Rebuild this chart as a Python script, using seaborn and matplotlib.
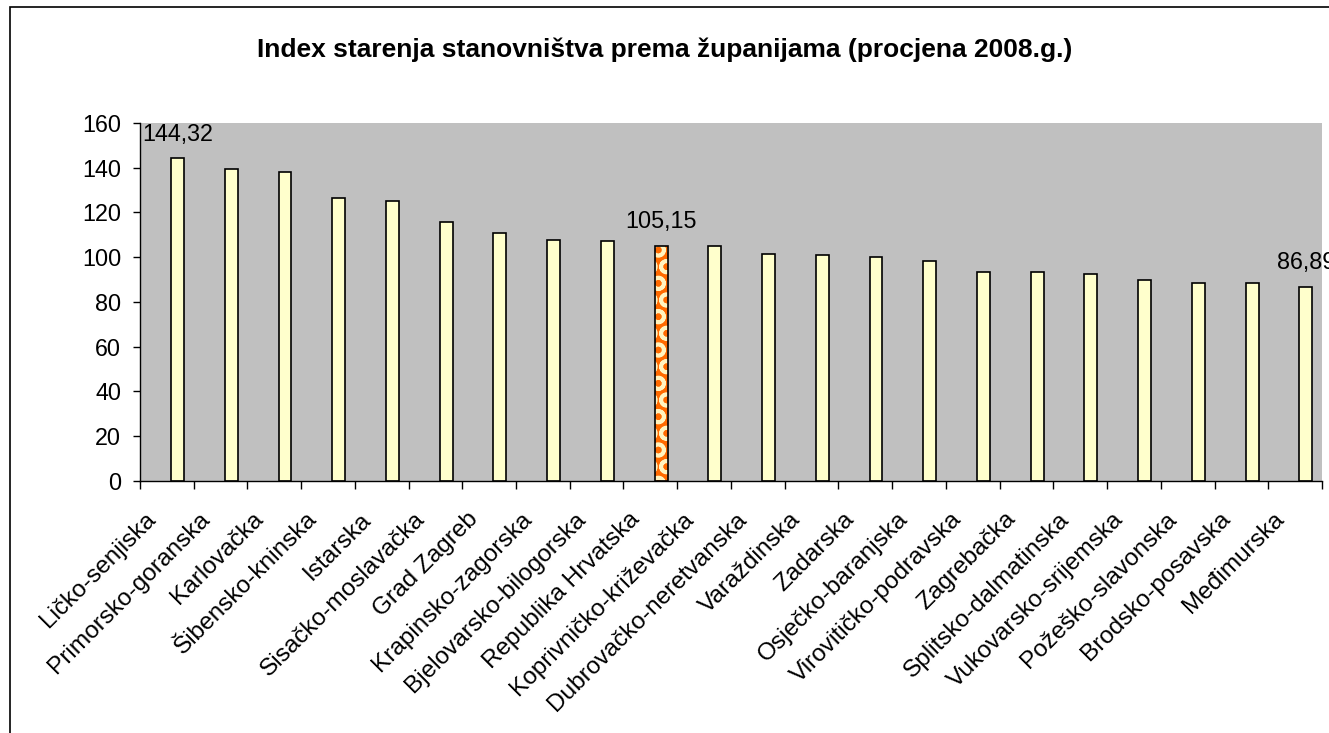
import matplotlib.pyplot as plt
import matplotlib.transforms as mtransforms
import seaborn as sns
import pandas as pd
import numpy as np
from matplotlib.patches import Rectangle

# Data
zupanije = [
    'Ličko-senjiska', 'Primorsko-goranska', 'Karlovačka', 'Šibensko-kninska',
    'Istarska', 'Sisačko-moslavačka', 'Grad Zagreb', 'Krapinsko-zagorska',
    'Bjelovarsko-bilogorska', 'Republika Hrvatska', 'Koprivničko-križevačka',
    'Dubrovačko-neretvanska', 'Varaždinska', 'Zadarska', 'Osječko-baranjska',
    'Virovitičko-podravska', 'Zagrebačka', 'Splitsko-dalmatinska',
    'Vukovarsko-srijemska', 'Požeško-slavonska', 'Brodsko-posavska', 'Međimurska'
]
index_starenja = [
    144.32, 139.4, 138.0, 126.6, 125.2, 115.7, 110.8, 107.9, 107.2, 105.15, 104.9,
    101.5, 100.8, 100.2, 98.5, 93.6, 93.5, 92.3, 90.0, 88.7, 88.6, 86.89
]
labelled = ['Ličko-senjiska', 'Republika Hrvatska', 'Međimurska']
highlight = 'Republika Hrvatska'

df = pd.DataFrame({'zupanija': zupanije, 'index': index_starenja})

sns.set_style('white')
plt.rcParams['font.family'] = ['Liberation Sans', 'DejaVu Sans']
plt.rcParams['text.color'] = 'black'
plt.rcParams['xtick.color'] = 'black'
plt.rcParams['ytick.color'] = 'black'
plt.rcParams['hatch.linewidth'] = 2.6

fs = 16.8

fig = plt.figure(figsize=(13.29, 7.33), dpi=100)
ax = fig.add_axes([0.1053, 0.3438, 0.8894, 0.4884])
ax.set_facecolor('#C0C0C0')

sns.barplot(data=df, x='zupanija', y='index', color='#FFFFCC',
            edgecolor='black', linewidth=1.2, width=0.24, saturation=1, ax=ax)

# bars sit right of the category centre (empty second series in the original)
for p in ax.patches:
    p.set_x(p.get_x() + 0.2)

# highlighted bar: orange pattern, black outline
for p, name in zip(ax.patches, zupanije):
    if name == highlight:
        p.set_facecolor('#FF6A00')
        p.set_hatch('O')
        p.set_edgecolor('#FFF4C0')
        p.set_linewidth(0)
        ax.add_patch(Rectangle(p.get_xy(), p.get_width(), p.get_height(),
                               fill=False, edgecolor='black', linewidth=1.2, zorder=p.get_zorder() + 0.1))

# data labels
lbls = [f'{v:.2f}'.replace('.', ',') if n in labelled else '' for n, v in zip(zupanije, index_starenja)]
texts = ax.bar_label(ax.containers[0], labels=lbls, padding=9, fontsize=fs)
for t in texts:
    t.set_clip_on(True)

ax.set_ylim(0, 160)
ax.set_xlim(-0.5, len(zupanije) - 0.5)
ax.set_yticks(np.arange(0, 161, 20))
ax.tick_params(axis='y', labelsize=fs, length=5, width=1, direction='out', left=True, pad=8.5)
ax.set_xticks(np.arange(len(zupanije) + 1) - 0.5, minor=True)
ax.tick_params(axis='x', which='minor', length=5.5, width=1, direction='out', bottom=True)
ax.tick_params(axis='x', which='major', length=0, pad=16)
ax.set_xticklabels(zupanije, rotation=45, ha='right', rotation_mode='anchor', fontsize=17.6)
shift = mtransforms.ScaledTranslation(-0.22, -0.05, fig.dpi_scale_trans)
for lab in ax.get_xticklabels():
    lab.set_transform(lab.get_transform() + shift)
ax.set_xlabel('')
ax.set_ylabel('')

for s in ['top', 'right']:
    ax.spines[s].set_visible(False)
for s in ['left', 'bottom']:
    ax.spines[s].set_color('black')
    ax.spines[s].set_linewidth(1)

fig.suptitle('Index starenja stanovništva prema županijama (procjena 2008.g.)',
             x=0.5, y=1 - 50 / 733, va='center', fontsize=19, fontweight='bold')

# chart area border (cut off at right and bottom)
fig.add_artist(Rectangle((10 / 1329, -0.1), 1.2, 1 - 7 / 733 + 0.1, transform=fig.transFigure,
                         fill=False, edgecolor='black', linewidth=1.2))

fig.savefig('out.png', dpi=100)
